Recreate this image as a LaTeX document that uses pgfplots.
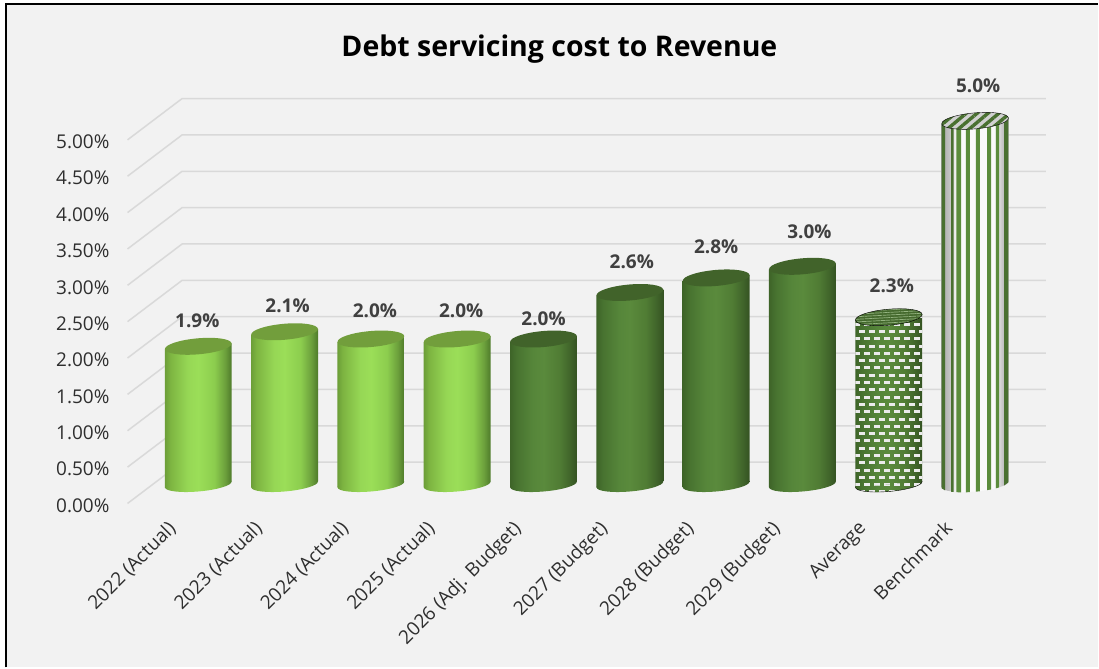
\documentclass[border=0pt]{standalone}
\usepackage{fontspec}
\setmainfont{Open Sans}
\usepackage{pgfplots}
\usepackage{pgfplotstable}
\pgfplotsset{compat=1.18}
\usetikzlibrary{shapes.geometric,patterns,patterns.meta,shadings}

\definecolor{panel}{HTML}{F2F2F2}
\definecolor{gridc}{HTML}{D9D9D9}
\definecolor{inkc}{HTML}{404040}
\definecolor{tickc}{HTML}{2E2E2E}
\definecolor{lightTop}{HTML}{729E3C}
\definecolor{darkTop}{HTML}{41632A}
\definecolor{stripeg}{HTML}{5B8C3C}

\definecolor{la}{HTML}{6C9E38}\definecolor{lb}{HTML}{7DB441}\definecolor{lc}{HTML}{96D755}
\definecolor{ld}{HTML}{9BDE58}\definecolor{le}{HTML}{8CCD4E}\definecolor{lf}{HTML}{6CA03C}
\definecolor{lg}{HTML}{4E7A2A}
\definecolor{da}{HTML}{3E6428}\definecolor{db}{HTML}{487330}\definecolor{dc}{HTML}{56863A}
\definecolor{dd}{HTML}{5A8A3C}\definecolor{de}{HTML}{507C34}\definecolor{df}{HTML}{40642A}
\definecolor{dg}{HTML}{345222}
\definecolor{sa}{HTML}{AAAAAA}\definecolor{sb}{HTML}{C3C3C3}\definecolor{sc}{HTML}{FAFAFA}
\definecolor{sd}{HTML}{C8C8C8}\definecolor{se}{HTML}{A5A5A5}

% Cylinder bodies: the bounding box of a shaded path maps to 25bp..75bp
\pgfdeclarehorizontalshading{cylLight}{100bp}{
  color(0bp)=(la); color(25bp)=(la); color(29bp)=(lb); color(42bp)=(lc); color(50bp)=(ld);
  color(62bp)=(le); color(70bp)=(lf); color(75bp)=(lg); color(100bp)=(lg)}
\pgfdeclarehorizontalshading{cylDark}{100bp}{
  color(0bp)=(da); color(25bp)=(da); color(30bp)=(db); color(42bp)=(dc); color(50bp)=(dd);
  color(62bp)=(de); color(70bp)=(df); color(75bp)=(dg); color(100bp)=(dg)}
\pgfdeclarehorizontalshading{cylStripe}{100bp}{
  color(0bp)=(sa); color(25bp)=(sa); color(31bp)=(sb); color(36bp)=(sc);
  color(64bp)=(sc); color(70bp)=(sd); color(75bp)=(se); color(100bp)=(se)}

% Staggered rows of light dashes on the Average cylinder
\pgfdeclarepatternformonly{dashrows}{\pgfqpoint{-1pt}{-1pt}}{\pgfqpoint{11pt}{15pt}}{\pgfqpoint{10pt}{14.6pt}}{
  \pgfpathrectangle{\pgfqpoint{0pt}{0pt}}{\pgfqpoint{5.5pt}{3pt}}\pgfusepath{fill}
  \pgfpathrectangle{\pgfqpoint{5pt}{7.3pt}}{\pgfqpoint{5.5pt}{3pt}}\pgfusepath{fill}}

% value column, then the nudges of each data label in points
\pgfplotstableread{
x v dx dy
0 1.90 -1 26
1 2.10 3 26
2 2.00 4 28
3 2.00 4 28
4 2.00 0 20
5 2.64 2 31
6 2.84 0 31
7 3.00 7 35
8 2.30 3 31
9 5.00 3 35
}\bars

\pgfplotsset{
  cap/.style={only marks,mark=none,forget plot,
    nodes near coords={},
    every node near coord/.style={anchor=center,ellipse,inner sep=0pt,outer sep=0pt,
      minimum width=67pt,minimum height=16pt,rotate=5,#1}},
  base/.style={only marks,mark=none,forget plot,
    nodes near coords={},
    every node near coord/.style={anchor=center,ellipse,inner sep=0pt,outer sep=0pt,
      minimum width=67pt,minimum height=14pt,rotate=5,#1}},
}

% Body of one cylinder: sides run 0.09 pt per pt out of level with the sloping caps
\newcommand\body[3]{%
  \pgfmathsetmacro\xa{#1-33.5/86.4}\pgfmathsetmacro\xb{#1+33.5/86.4}%
  \pgfmathsetmacro\ya{#2-3/72.8}\pgfmathsetmacro\yb{#2+3/72.8}%
  \pgfmathsetmacro\yc{3/72.8}\pgfmathsetmacro\yd{-3/72.8}%
  \edef\tmp{\noexpand\addplot[draw=none,#3,forget plot] coordinates
    {(\xa,\ya)(\xb,\yb)(\xb,\yc)(\xa,\yd)} -- cycle;}\tmp}

% One stripe of the Benchmark cylinder, offsets in points from its centre
\newcommand\stripe[3]{%
  \pgfmathsetmacro\xa{9+#1/86.4}\pgfmathsetmacro\xb{9+#2/86.4}%
  \pgfmathsetmacro\ya{5.0+0.09*#1/72.8}\pgfmathsetmacro\yb{5.0+0.09*#2/72.8}%
  \pgfmathsetmacro\yc{(0.09*#2-7.3*sqrt(1-(#2/33.6)^2))/72.8}%
  \pgfmathsetmacro\yd{(0.09*#1-7.3*sqrt(1-(#1/33.6)^2))/72.8}%
  \edef\tmp{\noexpand\addplot[draw=none,fill=#3,forget plot] coordinates
    {(\xa,\ya)(\xb,\yb)(\xb,\yc)(\xa,\yd)} -- cycle;}\tmp}

\begin{document}
\begin{tikzpicture}[x=1pt,y=1pt]
% panel and frame, in a box of 1099 by 668
\fill[white] (0,0) rectangle (1099,668);
\fill[panel] (6,0) rectangle (1099,664);
\draw[black,line width=2.4pt] (5.8,0) -- (5.8,664) -- (1099,664);

% wall with its grid and the two sets of tick labels
\begin{axis}[
  at={(127.7pt,164pt)},anchor=south west,scale only axis,
  width=919.3pt,height=364pt,
  xmin=-0.819,xmax=9.82,ymin=0,ymax=5,clip=false,
  axis x line*=bottom,axis y line*=left,
  x axis line style={draw=none},y axis line style={draw=none},
  tick style={draw=none},
  xtick={0,...,9},
  xticklabels={2022 (Actual),2023 (Actual),2024 (Actual),2025 (Actual),2026 (Adj. Budget),2027 (Budget),2028 (Budget),2029 (Budget),Average,Benchmark},
  xticklabel style={rotate=45,anchor=north east,font=\fontsize{19}{21}\selectfont,text=tickc,inner sep=0pt,xshift=-33.8pt,yshift=11.2pt},
  ytick={0,0.5,...,5},
  yticklabel={\pgfmathprintnumber[fixed,fixed zerofill,precision=2,assume math mode=true]{\tick}\%},
  yticklabel style={font=\fontsize{19}{21}\selectfont,text=tickc,anchor=east,inner sep=0pt,xshift=-18pt,yshift=-2pt},
]
\addplot[gridc,line width=1.5pt,forget plot] coordinates {(-0.819,0)(-0.187,0.568)(9.82,0.568)};
\addplot[gridc,line width=1.5pt,forget plot] coordinates {(-0.819,0.5)(-0.187,1.068)(9.82,1.068)};
\addplot[gridc,line width=1.5pt,forget plot] coordinates {(-0.819,1)(-0.187,1.568)(9.82,1.568)};
\addplot[gridc,line width=1.5pt,forget plot] coordinates {(-0.819,1.5)(-0.187,2.068)(9.82,2.068)};
\addplot[gridc,line width=1.5pt,forget plot] coordinates {(-0.819,2)(-0.187,2.568)(9.82,2.568)};
\addplot[gridc,line width=1.5pt,forget plot] coordinates {(-0.819,2.5)(-0.187,3.068)(9.82,3.068)};
\addplot[gridc,line width=1.5pt,forget plot] coordinates {(-0.819,3)(-0.187,3.568)(9.82,3.568)};
\addplot[gridc,line width=1.5pt,forget plot] coordinates {(-0.819,3.5)(-0.187,4.068)(9.82,4.068)};
\addplot[gridc,line width=1.5pt,forget plot] coordinates {(-0.819,4)(-0.187,4.568)(9.82,4.568)};
\addplot[gridc,line width=1.5pt,forget plot] coordinates {(-0.819,4.5)(-0.187,5.068)(9.82,5.068)};
\addplot[gridc,line width=1.5pt,forget plot] coordinates {(-0.819,5)(-0.187,5.568)(9.82,5.568)};
\end{axis}

% cylinders stand a little in front of the wall, so their zero lies higher;
% the bottom rims go first, in an axis of their own, to stay under the bodies
\begin{axis}[
  at={(127.7pt,164pt)},anchor=south west,scale only axis,
  width=919.3pt,height=364pt,
  xmin=-0.819,xmax=9.82,ymin=-0.261,ymax=4.739,clip=false,hide axis,
]
\addplot[base={shading=cylLight}] coordinates {(0,0)(1,0)(2,0)(3,0)};
\addplot[base={shading=cylDark}] coordinates {(4,0)(5,0)(6,0)(7,0)};
\addplot[base={shading=cylDark,postaction={pattern=dashrows,pattern color=white!92!black}}] coordinates {(8,0)};
\addplot[base={shading=cylStripe}] coordinates {(9,0)};
\end{axis}

\begin{axis}[
  at={(127.7pt,164pt)},anchor=south west,scale only axis,
  width=919.3pt,height=364pt,
  xmin=-0.819,xmax=9.82,ymin=-0.261,ymax=4.739,clip=false,hide axis,
]
% bodies
\body{0}{1.90}{shading=cylLight}
\body{1}{2.10}{shading=cylLight}
\body{2}{2.00}{shading=cylLight}
\body{3}{2.00}{shading=cylLight}
\body{4}{2.00}{shading=cylDark}
\body{5}{2.64}{shading=cylDark}
\body{6}{2.84}{shading=cylDark}
\body{7}{3.00}{shading=cylDark}
\body{8}{2.30}{shading=cylDark}
\body{8}{2.30}{pattern=dashrows,pattern color=white!92!black}
\body{9}{5.00}{shading=cylStripe}
% stripes of the Benchmark cylinder
\stripe{-33.4}{-30}{stripeg!80!black}
\stripe{-24}{-21.5}{stripeg!80!black}
\stripe{-18.7}{-14}{stripeg}
\stripe{-9.3}{-5.3}{stripeg}
\stripe{0.7}{4.7}{stripeg}
\stripe{12}{16}{stripeg}
\stripe{20.7}{24}{stripeg}
\stripe{29}{33.4}{stripeg!80!black}
% top faces
\addplot[cap={fill=lightTop}] coordinates {(0,1.90)(1,2.10)(2,2.00)(3,2.00)};
\addplot[cap={fill=darkTop}] coordinates {(4,2.00)(5,2.64)(6,2.84)(7,3.00)};
\addplot[cap={fill=stripeg!75!black,postaction={pattern={Lines[angle=3,distance=2.6pt,line width=0.7pt]},pattern color=white!35!stripeg}}] coordinates {(8,2.30)};
\addplot[cap={fill=black!18,postaction={pattern={Lines[angle=40,distance=7pt,line width=3.4pt]},pattern color=stripeg!80!black}}] coordinates {(9,5.00)};
% value labels taken from the same column
\addplot[only marks,mark=none,forget plot,
  visualization depends on={\thisrow{dx} \as \ldx},
  visualization depends on={\thisrow{dy} \as \ldy},
  point meta=\thisrow{v},
  nodes near coords={\pgfmathprintnumber[fixed,fixed zerofill,precision=1,assume math mode=true]{\pgfplotspointmeta}\%},
  every node near coord/.style={anchor=center,inner sep=0pt,text=inkc,xshift=\ldx pt,yshift=\ldy pt,
    font=\fontsize{19}{21}\selectfont\bfseries},
] table[x=x,y=v] {\bars};
\end{axis}

\node[anchor=center,text=black,font=\fontsize{28.5}{31}\selectfont\bfseries] at (560,619) {Debt servicing cost to Revenue};
\end{tikzpicture}
\end{document}
